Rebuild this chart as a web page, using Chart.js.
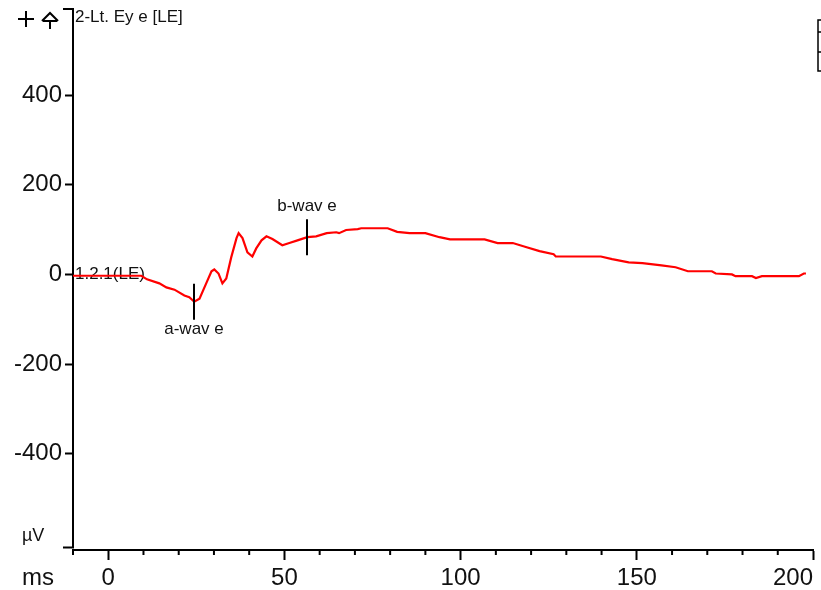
<!DOCTYPE html>
<html>
<head>
<meta charset="utf-8">
<script src="https://cdn.jsdelivr.net/npm/chart.js@4.4.1/dist/chart.umd.min.js"></script>
<style>
  html, body { margin: 0; padding: 0; background: #fff; }
  #wrap { width: 821px; height: 590px; position: relative; }
</style>
</head>
<body>
<div id="wrap"><canvas id="ergChart"></canvas></div>
<script>
// ===== Data =====
const timesMs = [-10, 9.4, 11, 14.5, 16.5, 18.8, 21.6, 23, 24.4, 25.9, 27.8, 29.3, 30.1, 31.3, 32.4, 33.5,
  34.9, 36.4, 37, 38.1, 39.5, 40.9, 42, 43.5, 44.9, 46.6, 49.4, 51.4, 53.7, 56.5, 59, 62, 64.7, 65.5,
  67.5, 70.8, 71.8, 79.3, 82, 85.5, 90, 94, 97, 106.8, 110.5, 114.8, 118.5, 122.4, 126.4, 127, 139.8,
  143, 147.7, 151.6, 157, 161, 164.5, 171.3, 172.4, 177, 178, 182.7, 183.8, 185.5, 196, 197.4, 198];
const amplitudesUv = [-3, -3, -11, -20, -29, -34, -47, -51, -61, -54, -20, 7, 11, 2, -20, -9,
  38, 81, 92, 81, 49, 40, 58, 76, 85, 79, 65, 70, 76, 83, 85, 92, 94, 92,
  99, 101, 103, 103, 95, 92, 92, 83, 78, 78, 70, 70, 61, 52, 45, 40, 40,
  34, 27, 25, 20, 16, 7, 7, 2, 0, -4, -4, -8, -4, -4, 2, 2];
const xTickLabels = [0, 50, 100, 150, 200];
const yTickLabels = [-400, -200, 0, 200, 400];
const markerNames = ['a-wav e', 'b-wav e'];
const markerTimes = [24.4, 56.5];
const markerValues = [-61, 83];
const traceTitle = '2-Lt. Ey e [LE]';
const traceLabel = '1.2.1(LE)';

const FONT = "'Liberation Sans', Arial, sans-serif";
const yAxisEnd = -609;   // where the drawn y axis stops, just above the x axis

// ===== Extra drawing: axis brackets, minor ticks, labels, markers =====
const decorations = {
  id: 'decorations',
  beforeDatasetsDraw(chart) {
    const { ctx, chartArea, scales: { x, y } } = chart;
    ctx.save();
    ctx.strokeStyle = '#000';
    ctx.lineWidth = 2;

    // y axis with little hooks at both ends
    const yTop = chartArea.top, yBot = y.getPixelForValue(yAxisEnd);
    ctx.beginPath();
    ctx.moveTo(chartArea.left - 10, yTop);
    ctx.lineTo(chartArea.left, yTop);
    ctx.lineTo(chartArea.left, yBot);
    ctx.lineTo(chartArea.left - 10, yBot);
    ctx.stroke();

    // minor ticks on x
    x.ticks.forEach(t => {
      if (t.value % 50 === 0) return;
      const px = x.getPixelForValue(t.value);
      ctx.beginPath();
      ctx.moveTo(px, chartArea.bottom);
      ctx.lineTo(px, chartArea.bottom + 5);
      ctx.stroke();
    });

    // toolbar icons top-left
    ctx.beginPath();
    ctx.moveTo(18, 19); ctx.lineTo(34, 19);
    ctx.moveTo(26, 11); ctx.lineTo(26, 27);
    ctx.moveTo(42, 21); ctx.lineTo(50, 13); ctx.lineTo(58, 21);
    ctx.moveTo(43, 21); ctx.lineTo(57, 21);
    ctx.moveTo(50, 21); ctx.lineTo(50, 29);
    ctx.stroke();

    // clipped box at the right edge
    ctx.lineWidth = 1.5;
    ctx.beginPath();
    ctx.moveTo(821, 20); ctx.lineTo(818, 20); ctx.lineTo(818, 71); ctx.lineTo(821, 71);
    ctx.moveTo(818, 32); ctx.lineTo(821, 32);
    ctx.moveTo(818, 52); ctx.lineTo(821, 52);
    ctx.stroke();

    // texts
    ctx.fillStyle = '#111';
    ctx.textBaseline = 'middle';
    ctx.font = '17px ' + FONT;
    ctx.textAlign = 'left';
    ctx.fillText(traceTitle, chartArea.left + 2, 17);
    ctx.fillText(traceLabel, chartArea.left + 2, y.getPixelForValue(0));

    ctx.font = '24px ' + FONT;
    ctx.fillText('ms', 22, 578);
    ctx.font = '18px ' + FONT;
    ctx.fillText('µV', 22, 536);
    ctx.restore();
  },
  afterDatasetsDraw(chart) {
    const { ctx, scales: { x, y } } = chart;
    ctx.save();
    ctx.strokeStyle = '#000';
    ctx.fillStyle = '#111';
    ctx.lineWidth = 2;
    ctx.font = '17px ' + FONT;
    ctx.textAlign = 'center';
    ctx.textBaseline = 'middle';
    markerNames.forEach((name, i) => {
      const px = Math.round(x.getPixelForValue(markerTimes[i]));
      const py = y.getPixelForValue(markerValues[i]);
      ctx.beginPath();
      ctx.moveTo(px, py - 18);
      ctx.lineTo(px, py + 18);
      ctx.stroke();
      // a-wave label below, b-wave label above
      const ly = markerValues[i] < 0 ? py + 28 : py - 31;
      ctx.fillText(name, px, ly);
    });
    ctx.restore();
  }
};

// ===== Chart =====
const ctx = document.getElementById('ergChart').getContext('2d');
new Chart(ctx, {
  type: 'line',
  data: {
    datasets: [{
      data: timesMs.map((t, i) => ({ x: t, y: amplitudesUv[i] })),
      borderColor: '#ff0000',
      borderWidth: 2.2,
      pointRadius: 0,
      tension: 0,
      fill: false
    }]
  },
  options: {
    responsive: true,
    maintainAspectRatio: false,
    animation: false,
    events: [],
    layout: { autoPadding: false, padding: { top: 9, right: 8, left: 0, bottom: 0 } },
    plugins: { legend: { display: false }, tooltip: { enabled: false } },
    scales: {
      x: {
        type: 'linear',
        min: -10,
        max: 200,
        afterFit: s => {
          s.height = 40;
          s.paddingLeft = 0; s.paddingRight = 0;
        },
        border: { display: true, color: '#000', width: 2 },
        grid: {
          drawOnChartArea: false,
          tickLength: 10,
          tickWidth: 2,
          tickColor: c => (c.tick && c.tick.value % 50 === 0 ? '#000' : 'rgba(0,0,0,0)')
        },
        ticks: {
          stepSize: 10,
          autoSkip: false,
          maxRotation: 0,
          align: 'inner',
          padding: 4,
          color: '#111',
          font: { family: FONT, size: 24 },
          callback: v => (xTickLabels.includes(v) ? String(v) : '')
        }
      },
      y: {
        type: 'linear',
        min: -614.7,
        max: 592,
        afterFit: s => {
          s.width = 73;
          s.paddingTop = 0; s.paddingBottom = 0;
        },
        afterBuildTicks: s => {
          s.ticks = yTickLabels.map(v => ({ value: v }));
        },
        border: { display: false },
        grid: {
          drawOnChartArea: false,
          tickLength: 8,
          tickWidth: 2,
          tickColor: '#000'
        },
        ticks: {
          padding: 3,
          color: '#111',
          font: { family: FONT, size: 24 },
          callback: v => String(v)
        }
      }
    }
  },
  plugins: [decorations]
});
</script>
</body>
</html>
